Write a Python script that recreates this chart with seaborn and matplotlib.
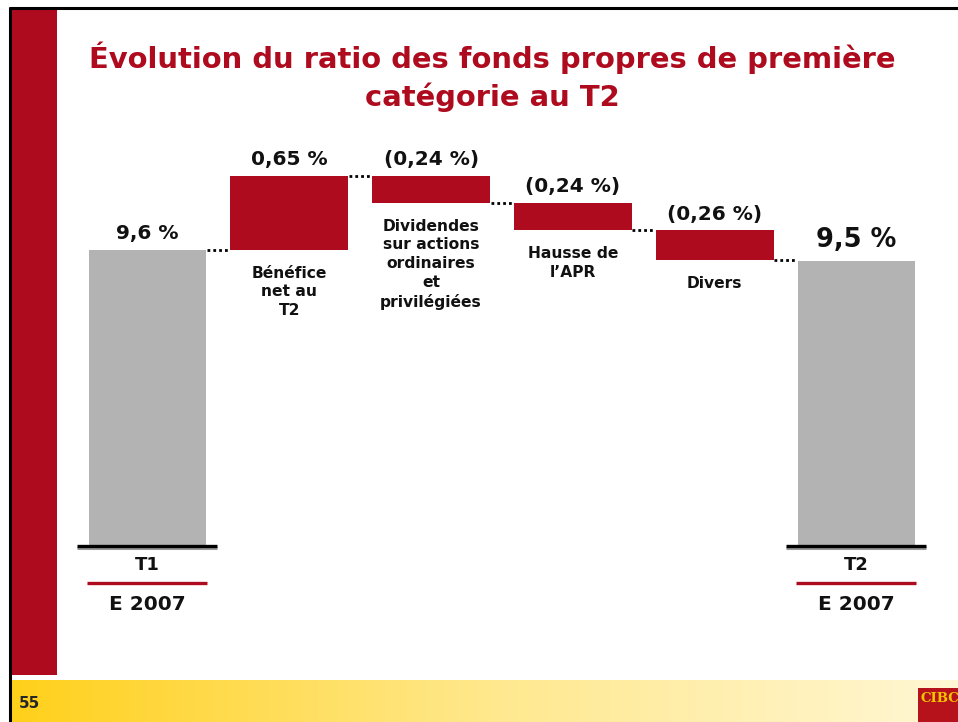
import numpy as np
import pandas as pd
import matplotlib
matplotlib.use("Agg")
import matplotlib.pyplot as plt
import seaborn as sns
from matplotlib.patches import Rectangle, Arc
from matplotlib.colors import LinearSegmentedColormap

# ------------------------------------------------------------------ #
# Données
# ------------------------------------------------------------------ #
categories = ["T1", "Bénéfice", "Dividendes", "Hausse", "Divers", "T2"]
start_ratio = 9.6
deltas = [0.65, -0.24, -0.24, -0.26]
end_ratio = 9.5
value_labels = ["9,6 %", "0,65 %", "(0,24 %)", "(0,24 %)", "(0,26 %)", "9,5 %"]
step_labels = ["Bénéfice\nnet au\nT2",
               "Dividendes\nsur actions\nordinaires\net\nprivilégiées",
               "Hausse de\nl\u2019APR",
               "Divers"]
total_labels = [("T1", "E 2007"), ("T2", "E 2007")]
title_lines = ["Évolution du ratio des fonds propres de première",
               "catégorie au T2"]
page_number = "55"
# ------------------------------------------------------------------ #

RED = "#AE0B1E"
GREY = "#B3B3B3"
Y0 = 7.0            # la base de l'axe (axe coupé)
PX_PER_UNIT = 114.0
BAR_W = 0.83

sns.set_style("white")
plt.rcParams["font.family"] = ["DejaVu Sans"]

# cumuls de la cascade
levels = [start_ratio]
for d in deltas:
    levels.append(levels[-1] + d)
bottoms = [0.0] + [min(levels[i], levels[i + 1]) for i in range(len(deltas))] + [0.0]
heights = [start_ratio] + [abs(d) for d in deltas] + [end_ratio]
colors = [GREY] + [RED] * len(deltas) + [GREY]
df = pd.DataFrame({"cat": categories, "h": heights})

fig = plt.figure(figsize=(9.58, 7.22), dpi=100)
W, H = 958, 722

# --- décor de la diapositive ---
deco = fig.add_axes([0, 0, 1, 1])
deco.set_xlim(0, W)
deco.set_ylim(H, 0)
deco.axis("off")
deco.add_patch(Rectangle((12, 9), 45, 666, color=RED, lw=0))
grad = LinearSegmentedColormap.from_list("g", ["#FFD01A", "#FFE88C", "#FFF7D4"])
deco.imshow(np.linspace(0, 1, 256)[None, :], cmap=grad, aspect="auto",
            extent=(11, W, H, 680), zorder=1)
deco.plot([9, W], [8, 8], color="black", lw=2.2, solid_capstyle="butt", zorder=3)
deco.plot([10, 10], [7, H], color="black", lw=2.2, solid_capstyle="butt", zorder=3)
deco.text(19, 704, page_number, fontsize=11, fontweight="bold", va="center", zorder=4)
# logo
deco.add_patch(Rectangle((918, 688), 45, 40, color="#B5121B", lw=0, zorder=4))
deco.text(921, 698, "CIBC", color="#F5C400", fontsize=9.5, fontweight="bold",
          family="DejaVu Serif", va="center", ha="left", zorder=5, clip_on=True)
deco.add_patch(Arc((960, 735), 80, 40, theta1=95, theta2=150, color="#F5C400",
                   lw=2.5, zorder=5))
deco.add_patch(Arc((960, 740), 80, 40, theta1=95, theta2=150, color="#FFFFFF",
                   lw=1.5, zorder=5))

deco.text(492, 58, title_lines[0], color=RED, fontsize=20.9, fontweight="bold",
          ha="center", va="center")
deco.text(492, 97, title_lines[1], color=RED, fontsize=20.9, fontweight="bold",
          ha="center", va="center")

# --- graphique en cascade ---
ax_bottom_px, ax_top_px = 546, 140
ax = fig.add_axes([60 / W, (H - ax_bottom_px) / H, 880 / W,
                   (ax_bottom_px - ax_top_px) / H])
sns.barplot(data=df, x="cat", y="h", order=categories, bottom=bottoms,
            color=GREY, width=BAR_W, errorbar=None, saturation=1, ax=ax,
            linewidth=0)
for patch, c in zip(ax.patches, colors):
    patch.set_facecolor(c)
    patch.set_edgecolor(c)

ax.set_ylim(Y0, Y0 + (ax_bottom_px - ax_top_px) / PX_PER_UNIT)
ax.set_xlim((60 - 147.5) / 141.8, (940 - 147.5) / 141.8)
ax.axis("off")

u = 1.0 / PX_PER_UNIT   # un pixel en unités de données

# connecteurs pointillés
for i in range(len(levels)):
    ax.plot([i + BAR_W / 2 + 0.005, i + 1 - BAR_W / 2 - 0.005], [levels[i]] * 2,
            color="black", lw=2.0, linestyle=(0, (1, 1.1)), zorder=3)

# valeurs au-dessus des barres
tops = [b + h for b, h in zip(bottoms, heights)]
for i, (t, lab) in enumerate(zip(tops, value_labels)):
    big = i == len(tops) - 1
    ax.text(i, t + (21 if big else 16) * u, lab, ha="center", va="center",
            fontsize=18.5 if big else 14.5, fontweight="bold", color="#111111")

# libellés sous les barres flottantes
for i, lab in enumerate(step_labels, start=1):
    ax.text(i, bottoms[i] - 16 * u, lab, ha="center", va="top",
            fontsize=11.2, fontweight="bold", color="#111111", linespacing=1.3)

# libellés des totaux sous l'axe
for i, (q, yr) in zip([0, len(categories) - 1], total_labels):
    ax.plot([i - 0.5, i + 0.49], [Y0 - 1.5 * u] * 2, color="#999999", lw=2.2,
            clip_on=False, solid_capstyle="butt", zorder=2)
    ax.plot([i - 0.5, i + 0.49], [Y0] * 2, color="black", lw=2.4,
            clip_on=False, solid_capstyle="butt", zorder=3)
    ax.plot([i - 0.43, i + 0.42], [Y0 - 37 * u] * 2, color=RED, lw=2.4,
            clip_on=False, solid_capstyle="butt")
    ax.text(i, Y0 - 19 * u, q, ha="center", va="center", fontsize=13,
            fontweight="bold", color="#111111", clip_on=False)
    ax.text(i, Y0 - 59 * u, yr, ha="center", va="center", fontsize=14.5,
            fontweight="bold", color="#111111", clip_on=False)

fig.savefig("out.png", dpi=100)
